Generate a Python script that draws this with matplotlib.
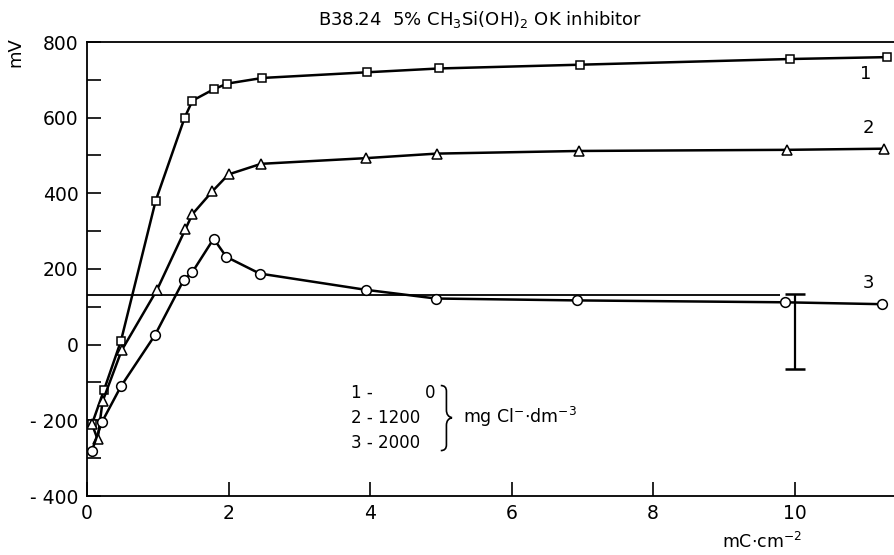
import matplotlib
matplotlib.use('Agg')
import matplotlib.pyplot as plt
from matplotlib.path import Path
from matplotlib.patches import PathPatch
import numpy as np

# curve 1 - 0 mg Cl-/dm3 (squares)
x1 = [0.07, 0.24, 0.48, 0.97, 1.38, 1.49, 1.79, 1.98, 2.48, 3.96, 4.97, 6.97, 9.93, 11.3]
y1 = [-210, -120, 10, 380, 600, 645, 675, 690, 705, 720, 730, 740, 755, 760]

# curve 2 - 1200 mg Cl-/dm3 (triangles)
x2 = [0.07, 0.15, 0.22, 0.49, 0.99, 1.39, 1.49, 1.77, 2.0, 2.46, 3.94, 4.94, 6.96, 9.9, 11.27]
y2 = [-210, -250, -150, -15, 145, 305, 345, 405, 450, 478, 493, 505, 512, 515, 518]

# curve 3 - 2000 mg Cl-/dm3 (circles)
x3 = [0.07, 0.21, 0.48, 0.96, 1.37, 1.49, 1.79, 1.97, 2.44, 3.94, 4.93, 6.92, 9.86, 11.24]
y3 = [-280, -205, -110, 25, 172, 192, 280, 232, 188, 145, 122, 117, 112, 107]

ref_level = 130
ref_end = 9.8
err_x = 10.0
err_mid = 35
err_half = 100

xticks = [0, 2, 4, 6, 8, 10]
yticks = [-400, -200, 0, 200, 400, 600, 800]
ytick_labels = ['- 400', '- 200', '0', '200', '400', '600', '800']

plt.rcParams['font.family'] = ['DejaVu Sans']
fig = plt.figure(figsize=(8.95, 5.55), dpi=100)
ax = fig.add_axes([87 / 895, 59 / 555, 808 / 895, 454 / 555])

lw = 1.8
ax.plot(x1, y1, color='black', lw=lw, marker='s', ms=6, mfc='white', mec='black', mew=1.1, zorder=3)
ax.plot(x2, y2, color='black', lw=lw, marker='^', ms=7, mfc='white', mec='black', mew=1.1, zorder=3)
ax.plot(x3, y3, color='black', lw=lw, marker='o', ms=7, mfc='white', mec='black', mew=1.1, zorder=3)

# reference level and error bar
ax.hlines(ref_level, 0, ref_end, color='black', lw=1.3, zorder=2)
ax.errorbar([err_x], [err_mid], yerr=[err_half], fmt='none', ecolor='black',
            elinewidth=1.6, capsize=7.5, capthick=1.8, zorder=2)

ax.set_xlim(0, 11.42)
ax.set_ylim(-400, 800)
ax.set_xticks(xticks)
ax.set_yticks(yticks)
ax.set_yticklabels(ytick_labels)
ax.set_yticks(np.arange(-300, 800, 200), minor=True)
ax.tick_params(axis='both', which='both', direction='in', width=1.2, labelsize=13.5)
ax.tick_params(axis='y', which='major', length=10, pad=6)
ax.tick_params(axis='y', which='minor', length=10)
ax.tick_params(axis='x', which='major', length=10, pad=6)

ax.spines['right'].set_visible(False)
for s in ['left', 'bottom', 'top']:
    ax.spines[s].set_linewidth(1.3)

# curve numbers
ax.text(11.0, 715, '1', fontsize=13, ha='center', va='center')
ax.text(11.05, 573, '2', fontsize=13, ha='center', va='center')
ax.text(11.05, 162, '3', fontsize=13, ha='center', va='center')

# legend block
ax.text(3.73, -127, '1 -', fontsize=12, ha='left', va='center')
ax.text(4.93, -127, '0', fontsize=12, ha='right', va='center')
ax.text(3.73, -193, '2 - 1200', fontsize=12, ha='left', va='center')
ax.text(3.73, -260, '3 - 2000', fontsize=12, ha='left', va='center')

# right curly brace
bx0, bx1, bxm = 5.0, 5.16, 5.08
byt, byb, bym = -108, -280, -193
verts = [(bx0, byt), (bxm, byt), (bxm, byt - 15), (bxm, bym + 20),
         (bxm, bym + 3), (bx1, bym), (bx1, bym),
         (bx1, bym), (bxm, bym - 3), (bxm, bym - 20),
         (bxm, byb + 15), (bxm, byb), (bx0, byb)]
codes = [Path.MOVETO, Path.CURVE3, Path.CURVE3, Path.LINETO,
         Path.CURVE3, Path.CURVE3, Path.MOVETO,
         Path.MOVETO, Path.CURVE3, Path.CURVE3,
         Path.LINETO, Path.CURVE3, Path.CURVE3]
ax.add_patch(PathPatch(Path(verts, codes), fill=False, lw=1.2, edgecolor='black'))
ax.text(5.32, -190, 'mg Cl$^{-}$$\\cdot$dm$^{-3}$', fontsize=12.5, ha='left', va='center')

fig.text(480 / 895, 1 - 20 / 555, 'B38.24  5% CH$_3$Si(OH)$_2$ OK inhibitor',
         fontsize=13, ha='center', va='center')
fig.text(15 / 895, 1 - 52 / 555, 'mV', fontsize=13, rotation=90, ha='center', va='center')
fig.text(762 / 895, 1 - 542 / 555, 'mC$\\cdot$cm$^{-2}$', fontsize=12.5, ha='center', va='center')

fig.savefig('out.png', dpi=100)
